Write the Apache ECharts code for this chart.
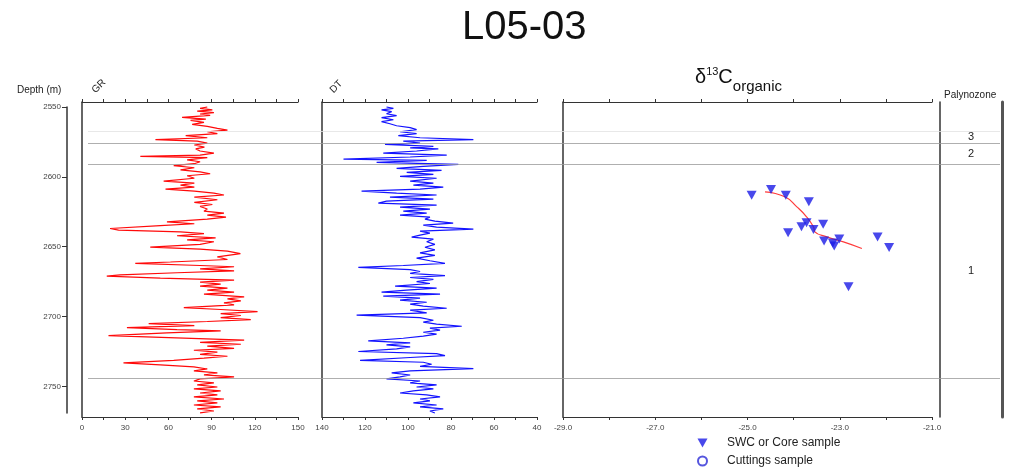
<!DOCTYPE html>
<html>
<head>
<meta charset="utf-8">
<title>L05-03</title>
<script src="https://cdn.jsdelivr.net/npm/echarts@6/dist/echarts.min.js"></script>
<style>
html, body { margin: 0; padding: 0; background: #fff; }
#chart { width: 1011px; height: 473px; }
</style>
</head>
<body>
<div id="chart"></div>
<script>
// 数据：[深度(m), 数值]
const grLog = [
  [2550, 87], [2551, 82], [2552, 90.5], [2553, 80], [2554, 91.6], [2555, 82], [2556, 89], [2557.4, 69.5],
  [2558.6, 86], [2559.6, 75.4], [2561, 84.7], [2562.4, 76.5], [2563.9, 87], [2565.3, 94], [2566.5, 101],
  [2567.7, 87], [2569, 94], [2570.5, 72], [2572, 87], [2573.4, 51], [2574.4, 80], [2575.8, 87], [2577.2, 78],
  [2578.7, 85], [2580, 79], [2581.5, 82], [2583, 91.6], [2584.4, 82], [2585.4, 40.5], [2586.3, 87],
  [2587.8, 73], [2589.2, 82], [2590.6, 78], [2592, 63.7], [2593.5, 78], [2595, 68.4], [2596.4, 82],
  [2597.8, 89], [2599.2, 73], [2601, 78], [2603, 56.7], [2604.5, 78], [2606, 68.4], [2607.3, 78],
  [2608.8, 58], [2610.2, 78], [2611.6, 91.6], [2613, 98.6], [2614.5, 78], [2616.4, 94], [2618.3, 78],
  [2619.8, 90.5], [2621.2, 82], [2623, 87], [2624.6, 84.7], [2626, 98.6], [2627.4, 87], [2628.9, 100],
  [2630.3, 87], [2632.2, 59], [2633.6, 78], [2635, 54.4], [2637, 19.5], [2638.2, 25.4], [2639.4, 68.4],
  [2640.6, 84.7], [2642.2, 66], [2643.7, 92.8], [2645.1, 73], [2646.5, 91.6], [2648.4, 82], [2650.4, 47.4],
  [2651.8, 82], [2653.2, 101], [2655, 110], [2657.3, 94], [2659.2, 101], [2661, 61.4], [2662, 37],
  [2663.5, 82], [2664.4, 105.6], [2665.9, 82], [2667.3, 105.6], [2668.7, 66], [2670.2, 26.5], [2671.1, 17.2],
  [2672.6, 54.4], [2674, 105.6], [2675.4, 82], [2676.9, 96.3], [2678.3, 82], [2679.7, 101], [2681.2, 87],
  [2682.6, 105.6], [2684, 84.7], [2686, 112.6], [2687.4, 101], [2688.8, 110.3], [2690.3, 98.6],
  [2691.7, 105.6], [2693.6, 70.7], [2695, 96.3], [2696.5, 121.9], [2697.9, 96.3], [2699.3, 110.3],
  [2700.8, 96.3], [2702.2, 117.2], [2703.6, 87], [2705.1, 46.3], [2706.5, 78], [2708, 31.2], [2709.4, 66],
  [2710.3, 96.3], [2711.8, 59], [2713.7, 18.4], [2715.1, 19.5], [2717, 112.6], [2718.5, 82], [2719.9, 110.3],
  [2721.3, 87], [2722.8, 105.6], [2724.2, 77.7], [2725.6, 94], [2727.1, 82], [2728.5, 101], [2729.9, 84.7],
  [2731.4, 63.7], [2733.3, 28.8], [2734.7, 54.4], [2736.1, 77.7], [2737.6, 87], [2739, 77.7], [2740.4, 94],
  [2741.9, 84.7], [2743.3, 105.6], [2744.7, 82], [2746.2, 77.7], [2747.6, 91.6], [2749, 80], [2750.5, 94],
  [2751.9, 77.7], [2753.3, 96.3], [2754.8, 82], [2756.2, 94], [2757.6, 77.7], [2759.1, 98.6], [2760.5, 80],
  [2761.9, 94], [2763.4, 77.7], [2764.8, 96.3], [2766.2, 80], [2767.7, 91.6], [2769.1, 82]
]

const dtLog = [
  [2550, 110], [2551, 106.8], [2552, 112.3], [2553.3, 107.6], [2554.8, 110], [2556.2, 105.3], [2557.6, 112.3],
  [2559.1, 106.8], [2560.5, 112.3], [2562, 108.4], [2563.4, 105.3], [2564.8, 99], [2566.2, 96], [2567.7, 103.7],
  [2569, 96], [2570.5, 104.5], [2572, 94.4], [2573.4, 69.6], [2574.4, 102.2], [2575.8, 94.4], [2576.8, 110.7],
  [2578.2, 88.2], [2579.2, 99], [2580, 85.9], [2581.5, 96], [2583, 111.5], [2584.4, 82], [2585.8, 99],
  [2587.3, 130], [2588.2, 91.3], [2589.7, 114.6], [2591.1, 76.6], [2592.5, 92.9], [2594, 105.3], [2595.4, 84.4],
  [2596.8, 100.6], [2598.3, 88.2], [2599.7, 103.7], [2601, 86.7], [2603, 99], [2604.5, 88.2], [2606, 97.5],
  [2607.3, 83.6], [2608.8, 94.4], [2610.2, 121.6], [2611.6, 105.3], [2613, 86.7], [2614.5, 108.4], [2616, 88.2],
  [2617.4, 110], [2618.8, 113.8], [2620.3, 86.7], [2621.7, 103.7], [2623.1, 89.8], [2624.6, 102.2], [2626, 91.3],
  [2627.4, 103.7], [2628.9, 89.8], [2630.3, 92.1], [2631.7, 87.5], [2633.2, 79], [2634.6, 92.9], [2636, 86.7],
  [2637.5, 69.6], [2638.9, 94.4], [2640.3, 89.8], [2641.8, 94.4], [2643.2, 98.3], [2644.6, 88.2], [2646.5, 91.3],
  [2648.4, 87.5], [2650.4, 92.1], [2652.3, 87.5], [2654.4, 94.4], [2656.3, 87.5], [2658.2, 96], [2660.1, 89.8],
  [2662, 82.8], [2663.5, 102.2], [2664.9, 123.1], [2666.4, 99], [2667.8, 94.4], [2669.2, 99], [2670.7, 82.8],
  [2672.1, 99], [2673.5, 88.2], [2675, 96], [2676.4, 89.8], [2678.3, 106], [2679.7, 86.7], [2681.2, 100.6],
  [2682.6, 112.3], [2684, 85.1], [2685.5, 111.5], [2686.9, 94.4], [2688.3, 103.7], [2689.8, 91.3], [2691.2, 99],
  [2692.6, 92.9], [2694.1, 82], [2695.5, 99], [2697.4, 91.3], [2699.1, 123.9], [2700.8, 94.4], [2702.7, 88.2],
  [2704.1, 92.9], [2705.5, 86.7], [2707, 75], [2708.4, 89.8], [2709.8, 85.1], [2711.3, 92.9], [2712.7, 86.7],
  [2714.1, 92.9], [2715.6, 102.2], [2717.5, 118.5], [2718.9, 99], [2720.4, 110], [2721.8, 99], [2723.2, 105.3],
  [2725.1, 123.1], [2726.6, 86.7], [2728, 82.8], [2729.4, 99], [2731.4, 122.3], [2732.8, 92.9], [2734.2, 89],
  [2735.7, 94.4], [2737.3, 69.6], [2739, 99], [2740.4, 107.6], [2741.9, 99], [2743.3, 103.7], [2744.7, 110],
  [2746.2, 94.4], [2747.6, 99], [2749, 86.7], [2750.5, 96], [2751.9, 88.2], [2753.3, 97.5], [2754.8, 103.7],
  [2756.2, 91.3], [2757.6, 85.1], [2759.1, 94.4], [2760.5, 89.8], [2761.9, 97.5], [2763.4, 86.7], [2764.8, 94.4],
  [2766.2, 83.6], [2767.7, 89.8], [2769.1, 87.5]
]

// δ13C 样品 [深度, 值]
const swcSamples = [
  [2613.1, -24.91], [2609, -24.49], [2613.1, -24.17], [2617.9, -23.67], [2640.1, -24.12], [2635.8, -23.83],
  [2632.9, -23.72], [2637.7, -23.57], [2633.9, -23.36], [2646, -23.34], [2647.3, -23.15], [2649.6, -23.12],
  [2644.6, -23.01], [2643, -22.18], [2650.6, -21.93], [2678.8, -22.81]
]
const cuttingsSamples = []
const trendLine = [
  [2610.7, -24.62], [2614.3, -24.19], [2621.5, -23.93], [2628.6, -23.72], [2635.8, -23.57],
  [2639.4, -23.54], [2643, -23.28], [2646.6, -22.92], [2651.3, -22.52]
]

const depthTicks = [2550, 2600, 2650, 2700, 2750]
const zoneNames = ['3', '2', '1']
const zoneTops = [2567, 2576, 2591]
const zoneBases = [2576, 2591, 2744]
const boundaryDepths = [2576, 2591, 2744]
const faintBoundaryDepths = [2567]

const depthTop = 2546.4
const depthBottom = 2772

const chart = echarts.init(document.getElementById('chart'))
const font = 'Liberation Sans'
const axisColor = '#333'

function logYAxis(gridIndex) {
  return {
    type: 'value', gridIndex: gridIndex, inverse: true, min: depthTop, max: depthBottom,
    axisLine: { show: true, onZero: false, lineStyle: { color: axisColor, width: 1.5 } },
    axisTick: { show: false }, axisLabel: { show: false }, splitLine: { show: false }
  }
}

function logXAxis(gridIndex, position, min, max, interval, inverse, fmt) {
  return {
    type: 'value', gridIndex: gridIndex, position: position, min: min, max: max, interval: interval,
    inverse: inverse,
    axisLine: { show: true, onZero: false, lineStyle: { color: axisColor, width: 1.2 } },
    axisTick: { show: true, length: 3, lineStyle: { color: axisColor } },
    axisLabel: fmt ? { show: true, fontSize: 8, color: '#444', fontFamily: font, margin: 7, formatter: fmt } : { show: false },
    splitLine: { show: false }
  }
}

const option = {
  animation: false,
  backgroundColor: '#fff',
  title: [
    { text: 'L05-03', left: 457, top: 3, textStyle: { fontSize: 40, fontWeight: 'normal', color: '#111', fontFamily: font } },
    { text: 'Depth (m)', left: 12, top: 80, textStyle: { fontSize: 10, fontWeight: 'normal', color: '#222', fontFamily: font } },
    { text: 'Palynozone', left: 939, top: 85, textStyle: { fontSize: 10, fontWeight: 'normal', color: '#222', fontFamily: font } },
    {
      text: '{a|δ}{b|13}{a|C}{c|organic}', left: 690, top: 59,
      textStyle: {
        fontWeight: 'normal',
        rich: {
          a: { fontSize: 20, fontWeight: 'normal', color: '#111', fontFamily: font, lineHeight: 26, verticalAlign: 'middle' },
          b: { fontSize: 11, fontWeight: 'normal', color: '#111', fontFamily: font, lineHeight: 12, verticalAlign: 'top', padding: [2, 0, 0, 0] },
          c: { fontSize: 15, fontWeight: 'normal', color: '#111', fontFamily: font, lineHeight: 14, verticalAlign: 'bottom', padding: [0, 0, -4, 0] }
        }
      }
    }
  ],
  graphic: [
    { type: 'text', x: 90, y: 88, rotation: Math.PI / 4, style: { text: 'GR', fontSize: 10, fill: '#222', fontFamily: font } },
    { type: 'text', x: 328, y: 88, rotation: Math.PI / 4, style: { text: 'DT', fontSize: 10, fill: '#222', fontFamily: font } }
  ],
  legend: {
    orient: 'vertical', left: 697, top: 437, padding: 0, itemWidth: 11, itemHeight: 9, itemGap: 6,
    selectedMode: false,
    textStyle: { fontSize: 12, color: '#222', fontFamily: font, padding: [0, 0, 0, 14] },
    data: ['SWC or Core sample', 'Cuttings sample']
  },
  grid: [
    { left: 67, top: 107, width: 10, height: 306 },   // 深度轴
    { left: 82, top: 102, width: 216, height: 315 },  // GR
    { left: 322, top: 102, width: 215, height: 315 }, // DT
    { left: 563, top: 102, width: 369, height: 315 }, // δ13C
    { left: 940, top: 102, width: 62, height: 315 },  // 孢粉带
    { left: 88, top: 102, width: 912, height: 315 }   // 分界线
  ],
  xAxis: [
    { type: 'value', gridIndex: 0, show: false, min: 0, max: 1 },
    logXAxis(1, 'top', 0, 150, 15, false, null),
    logXAxis(1, 'bottom', 0, 150, 15, false, v => (v % 30 === 0 ? String(v) : '')),
    logXAxis(2, 'top', 40, 140, 10, true, null),
    logXAxis(2, 'bottom', 40, 140, 10, true, v => (v % 20 === 0 ? String(v) : '')),
    logXAxis(3, 'top', -29, -21, 1, false, null),
    logXAxis(3, 'bottom', -29, -21, 1, false, v => (Math.abs(v) % 2 === 1 ? v.toFixed(1) : '')),
    { type: 'value', gridIndex: 4, show: false, min: 0, max: 1 },
    { type: 'value', gridIndex: 5, show: false, min: 0, max: 1 }
  ],
  yAxis: [
    {
      type: 'value', gridIndex: 0, inverse: true, min: 2550, max: 2769.1, position: 'left',
      axisLine: { show: true, onZero: false, lineStyle: { color: axisColor, width: 1.5 } },
      axisTick: { show: true, length: 5, customValues: depthTicks, lineStyle: { color: axisColor } },
      axisLabel: {
        show: true, fontSize: 8, color: '#444', fontFamily: font, margin: 6, customValues: depthTicks,
        formatter: v => String(v)
      },
      splitLine: { show: false }
    },
    logYAxis(1),
    logYAxis(2),
    logYAxis(3),
    logYAxis(4),
    {
      type: 'value', gridIndex: 4, position: 'right', inverse: true, min: depthTop, max: depthBottom,
      axisLine: { show: true, onZero: false, lineStyle: { color: '#555', width: 3 } },
      axisTick: { show: false }, axisLabel: { show: false }, splitLine: { show: false }
    },
    { type: 'value', gridIndex: 5, show: false, inverse: true, min: depthTop, max: depthBottom }
  ],
  series: [
    {
      name: 'boundaries', type: 'line', xAxisIndex: 8, yAxisIndex: 6, data: [], z: 1, silent: true,
      markLine: {
        symbol: 'none', silent: true, label: { show: false },
        data: boundaryDepths.map(d => ({ yAxis: d, lineStyle: { color: '#9a9a9a', width: 0.8, type: 'solid' } }))
          .concat(faintBoundaryDepths.map(d => ({ yAxis: d, lineStyle: { color: '#e2e2e2', width: 0.8, type: 'solid' } })))
      }
    },
    {
      name: 'GR', type: 'line', xAxisIndex: 2, yAxisIndex: 1, showSymbol: false, z: 3,
      lineStyle: { color: '#ff0a0a', width: 1.2 }, itemStyle: { color: '#ff0a0a' },
      data: grLog.map(p => [p[1], p[0]])
    },
    {
      name: 'DT', type: 'line', xAxisIndex: 4, yAxisIndex: 2, showSymbol: false, z: 3,
      lineStyle: { color: '#1414ff', width: 1.2 }, itemStyle: { color: '#1414ff' },
      data: dtLog.map(p => [p[1], p[0]])
    },
    {
      name: 'trend', type: 'line', xAxisIndex: 6, yAxisIndex: 3, showSymbol: false, smooth: true, z: 3,
      lineStyle: { color: '#ff3b3b', width: 1.2 },
      data: trendLine.map(p => [p[1], p[0]])
    },
    {
      name: 'SWC or Core sample', type: 'scatter', xAxisIndex: 6, yAxisIndex: 3, z: 4,
      symbol: 'path://M0,0L10,0L5,9Z', symbolSize: [10, 9],
      itemStyle: { color: '#1a1ae6' },
      data: swcSamples.map(p => [p[1], p[0]])
    },
    {
      name: 'Cuttings sample', type: 'scatter', xAxisIndex: 6, yAxisIndex: 3, z: 4,
      symbol: 'emptyCircle', symbolSize: 7,
      itemStyle: { color: '#2a2ad6', borderWidth: 1.5 },
      data: cuttingsSamples.map(p => [p[1], p[0]])
    },
    {
      name: 'zones', type: 'line', xAxisIndex: 7, yAxisIndex: 4, data: [], silent: true,
      markArea: {
        silent: true,
        itemStyle: { color: 'rgba(0,0,0,0)' },
        label: { show: true, position: 'inside', fontSize: 11, color: '#222', fontFamily: font },
        data: zoneNames.map((n, i) => [{ name: n, yAxis: zoneTops[i] }, { yAxis: zoneBases[i] }])
      }
    }
  ]
}

chart.setOption(option)
</script>
</body>
</html>
